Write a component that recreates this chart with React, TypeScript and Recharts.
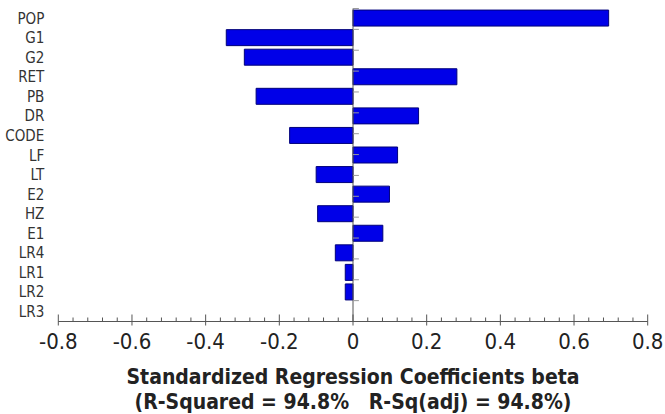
import { BarChart, Bar, XAxis, YAxis, ReferenceLine } from "recharts";

// Factors, top to bottom
const factors = ["POP", "G1", "G2", "RET", "PB", "DR", "CODE", "LF", "LT", "E2", "HZ", "E1", "LR4", "LR1", "LR2", "LR3"];
// Standardized regression coefficients
const betas = [0.694, -0.344, -0.295, 0.282, -0.263, 0.178, -0.172, 0.121, -0.1, 0.099, -0.096, 0.081, -0.048, -0.021, -0.021, 0.0];
// Labelled ticks on the coefficient axis
const majorTicks = [-0.8, -0.6, -0.4, -0.2, 0, 0.2, 0.4, 0.6, 0.8];
const minorPerMajor = 4;

const axisTitle = "Standardized Regression Coefficients beta";
const fitNote = "(R-Squared = 94.8%   R-Sq(adj) = 94.8%)";

const rows = factors.map((name, i) => ({ name, beta: betas[i] }));

// every 0.04 between the labelled ticks
const allTicks: number[] = [];
majorTicks.forEach((t, i) => {
  allTicks.push(t);
  if (i < majorTicks.length - 1) {
    const step = (majorTicks[i + 1] - t) / (minorPerMajor + 1);
    for (let k = 1; k <= minorPerMajor; k++) allTicks.push(+(t + step * k).toFixed(3));
  }
});

// band edges for the little ticks on the zero line
const edges = factors.map((_, i) => i).concat([factors.length]);

const FONT = "'DejaVu Sans Condensed', 'DejaVu Sans', sans-serif";
const AXIS = "#555";

function XTick(props: any) {
  const { x, y, payload } = props;
  const v = payload.value as number;
  const isMajor = majorTicks.some((m) => Math.abs(m - v) < 1e-6);
  if (!isMajor) {
    return <line x1={x} x2={x} y1={y - 4} y2={y} stroke={AXIS} strokeWidth={1} />;
  }
  return (
    <g>
      <line x1={x} x2={x} y1={y - 7} y2={y + 4} stroke={AXIS} strokeWidth={1} />
      <text x={x} y={y + 27} textAnchor="middle" fontFamily={FONT} fontSize={22} fill="#222">
        {v === 0 ? "0" : String(v)}
      </text>
    </g>
  );
}

function AxisTitle(props: any) {
  const vb = props.viewBox || {};
  const cx = vb.width ? vb.x + vb.width / 2 : 353;
  const top = vb.y ?? 321.5;
  return (
    <g fontFamily={FONT} fontWeight="bold" fontSize={21} fill="#222" textAnchor="middle">
      <text x={cx} y={top + 62.5}>{axisTitle}</text>
      <text x={cx} y={top + 87} xmlSpace="preserve" style={{ whiteSpace: "pre" }}>{fitNote}</text>
    </g>
  );
}

export default function App() {
  return (
    <div style={{ position: "absolute", left: 0, top: 0, background: "#fff" }}>
      <BarChart
        width={665}
        height={414}
        layout="vertical"
        data={rows}
        margin={{ top: 8.5, right: 17.3, bottom: 0, left: 0 }}
        barCategoryGap="8%"
      >
        <XAxis
          type="number"
          domain={[-0.8, 0.8]}
          ticks={allTicks}
          interval={0}
          tick={<XTick />}
          tickLine={false}
          tickSize={0}
          tickMargin={0}
          axisLine={{ stroke: AXIS }}
          height={92.5}
          label={<AxisTitle />}
        />
        <YAxis
          type="category"
          dataKey="name"
          width={58.3}
          axisLine={false}
          tickLine={false}
          tickSize={0}
          tickMargin={14}
          interval={0}
          tick={{ fontFamily: FONT, fontSize: 15, fill: "#333" }}
        />
        <YAxis yAxisId="edge" type="number" domain={[0, factors.length]} hide />
        <ReferenceLine x={0} stroke={AXIS} strokeWidth={1} />
        {edges.map((e) => (
          <ReferenceLine
            key={e}
            yAxisId="edge"
            segment={[{ x: 0, y: e }, { x: 0.016, y: e }]}
            stroke="#999"
            strokeWidth={1}
          />
        ))}
        <Bar dataKey="beta" fill="#0000e8" stroke="#00007a" strokeWidth={1} isAnimationActive={false} />
      </BarChart>
    </div>
  );
}
